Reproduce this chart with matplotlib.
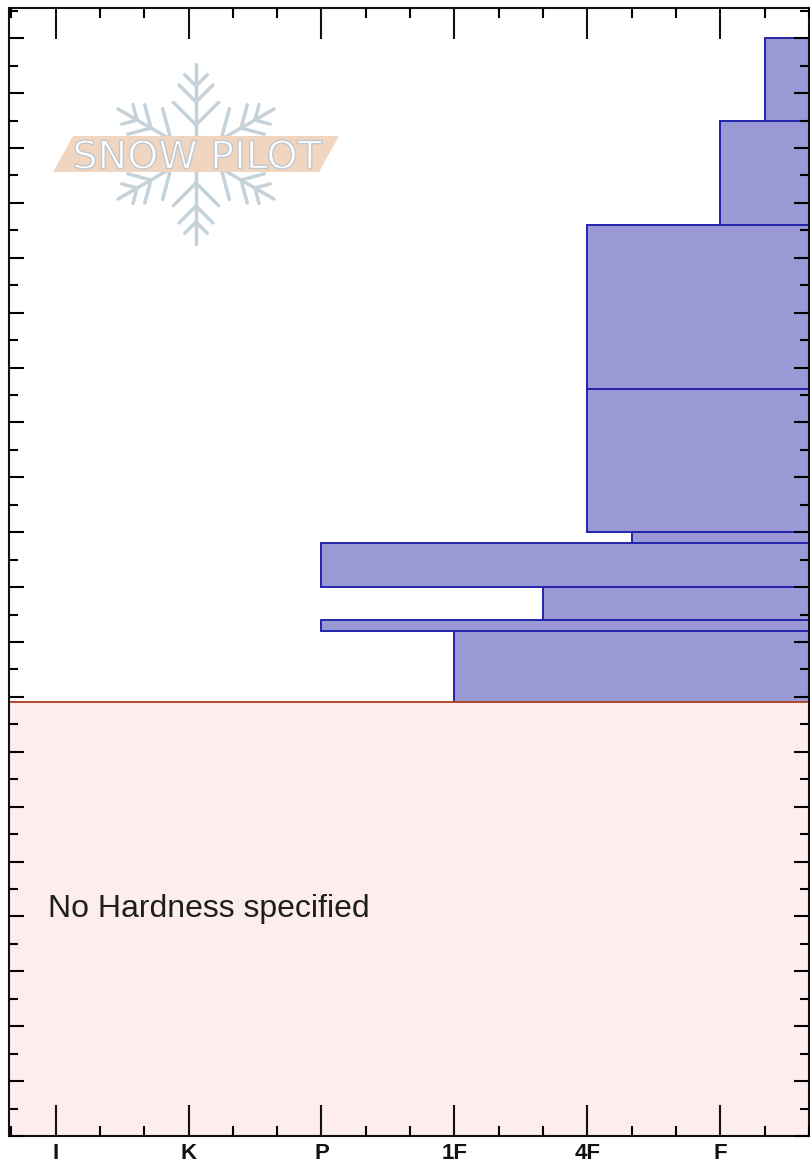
import numpy as np
import matplotlib
matplotlib.use("Agg")
import matplotlib.pyplot as plt
from matplotlib.ticker import MultipleLocator
from matplotlib.textpath import TextPath
from matplotlib.patches import PathPatch, Polygon
from matplotlib.font_manager import FontProperties
from matplotlib.transforms import Affine2D

plt.rcParams['font.family'] = ['Liberation Sans', 'DejaVu Sans']

# hardness scale, hardest on the left
hardness_names = ['I', 'K', 'P', '1F', '4F', 'F']

# layers (height from ground, cm) and their hand hardness
layer_bottom = [79, 92, 94, 100, 108, 110, 136, 166, 185]
layer_top = [92, 94, 100, 108, 110, 136, 166, 185, 200]
layer_hardness = ['1F', 'P', '4F+', 'P', '4F-', '4F', '4F', 'F', 'F-']

no_hardness_top = 79
depth_max = 205.5


def hardness_pos(h):
    pos = hardness_names.index(h.rstrip('+-')) + 1
    if h.endswith('+'):
        pos -= 1 / 3
    elif h.endswith('-'):
        pos += 1 / 3
    return pos


xmin, xmax = 0.65, 6 + 2 / 3

fig = plt.figure(figsize=(8.1, 11.65), dpi=100)
ax = fig.add_axes([9 / 810, 29 / 1165, 800 / 810, 1128 / 1165])
ax.set_axisbelow(False)

left = [hardness_pos(h) for h in layer_hardness]
ax.barh(layer_bottom, [xmax - l for l in left], left=left,
        height=np.subtract(layer_top, layer_bottom), align='edge',
        color='#9999d6', edgecolor='#2424ac', linewidth=1.4, zorder=1.8)
ax.barh(0, xmax - xmin, left=xmin, height=no_hardness_top, align='edge',
        color='#fdeded', edgecolor='#b5482b', linewidth=1.4, zorder=1.9)
ax.text(0.049, 0.194, 'No Hardness specified', transform=ax.transAxes,
        fontsize=23, color='#1e1e1e', va='baseline', zorder=3)

ax.set_xlim(xmin, xmax)
ax.set_ylim(0, depth_max)
ax.set_xticks(range(1, 7))
ax.set_xticklabels(hardness_names, fontweight='bold', fontsize=16)
ax.set_xticks([k + f for k in range(0, 7) for f in (1 / 3, 2 / 3)
               if xmin <= k + f <= xmax + 1e-9], minor=True)
ax.yaxis.set_major_locator(MultipleLocator(10))
ax.yaxis.set_minor_locator(MultipleLocator(5))
ax.tick_params(axis='x', which='major', direction='in', length=22.5, width=1.5,
               top=True, pad=5, colors='#111111')
ax.tick_params(axis='x', which='minor', direction='in', length=7, width=1.5, top=True)
ax.tick_params(axis='y', which='major', direction='in', length=11, width=1.5,
               right=True, labelleft=False)
ax.tick_params(axis='y', which='minor', direction='in', length=6.5, width=1.5, right=True)
for s in ax.spines.values():
    s.set_linewidth(1.5)
    s.set_color('#111111')

# Snow Pilot watermark, drawn in pixel coordinates
lax = fig.add_axes([0, 0, 1, 1])
lax.set_xlim(0, 810)
lax.set_ylim(1165, 0)
lax.axis('off')

cx, cy, arm = 196, 154, 90
flake = '#c6d2da'
for a in [90, 30, -30, -90, -150, 150]:
    d = np.array([np.cos(np.radians(a)), -np.sin(np.radians(a))])
    c = np.array([cx, cy])
    lax.plot(*zip(c, c + arm * d), color=flake, lw=2.5, solid_capstyle='round', zorder=1)
    for dist, blen in [(29, 32), (52, 24), (68, 16)]:
        s = c + dist * d
        for r in (45, -45):
            b = np.array([np.cos(np.radians(a + r)), -np.sin(np.radians(a + r))])
            lax.plot(*zip(s, s + blen * b), color=flake, lw=2.5,
                     solid_capstyle='round', zorder=1)

lax.add_patch(Polygon([(53, 172), (73, 136), (339, 136), (319, 172)],
                      closed=True, facecolor='#f0d6c0', edgecolor='none', zorder=3))

tp = TextPath((0, 0), 'SNOW PILOT', size=1, prop=FontProperties(family='DejaVu Sans'))
bb = tp.get_extents()
tr = Affine2D().translate(-bb.x0, -bb.y0).scale(247 / bb.width, -29 / bb.height).translate(75, 169)
lax.add_patch(PathPatch(tr.transform_path(tp), facecolor='white',
                        edgecolor='#c2c8ce', lw=1.0, zorder=4))

fig.savefig('out.png', dpi=100)
